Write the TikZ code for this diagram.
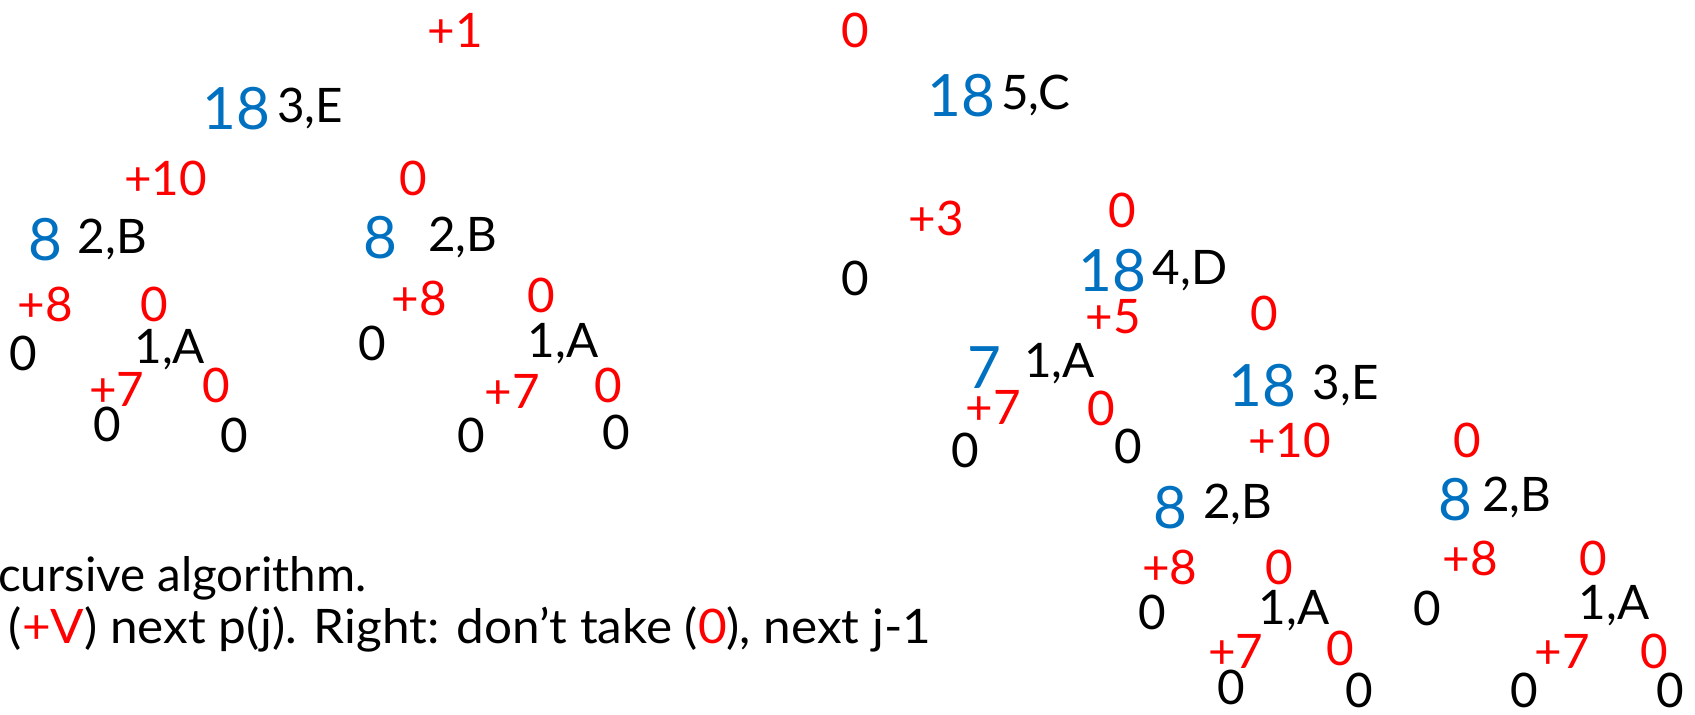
\documentclass[tikz,border=0pt]{standalone}
\usepackage{fontspec}
\setmainfont{Lato}
\definecolor{vred}{RGB}{255,0,0}
\definecolor{vblue}{RGB}{0,112,192}
\tikzset{
  base/.style={inner sep=0pt, anchor=center, font=\fontsize{44}{48}\selectfont},
  rd/.style={base, text=vred},
  bk/.style={base, text=black},
  bl/.style={base, text=vblue, font=\fontsize{54}{58}\selectfont},
  txt/.style={inner sep=0pt, anchor=west, font=\fontsize{44}{48}\selectfont}
}
\begin{document}
\begin{tikzpicture}[x=1pt,y=1pt]
\useasboundingbox (0,0) rectangle (1568,-661);
% ---- left tree
\node[rd] (l1) at (421,-28) {+1};
\node[bl] (l2) at (219,-100) {18};
\node[bk] (l3) at (287,-100) {3,E};
\node[rd] (l4) at (153,-165) {+10};
\node[rd] (l5) at (382,-165) {0};
\node[bl] (l6) at (42,-222) {8};
\node[bk] (l7) at (104,-222) {2,B};
\node[bl] (l8) at (352,-220) {8};
\node[bk] (l9) at (428,-220) {2,B};
\node[rd] (l10) at (42,-282) {+8};
\node[rd] (l11) at (143,-282) {0};
\node[bk] (l12) at (22,-327) {0};
\node[bk] (l13) at (157,-323) {1,A};
\node[rd] (l14) at (108,-360) {+7};
\node[rd] (l15) at (200,-357) {0};
\node[bk] (l16) at (99,-393) {0};
\node[bk] (l17) at (217,-403) {0};
\node[rd] (l18) at (388,-276) {+8};
\node[rd] (l19) at (501,-273) {0};
\node[bk] (l20) at (344,-318) {0};
\node[bk] (l21) at (521,-318) {1,A};
\node[rd] (l22) at (474,-362) {+7};
\node[rd] (l23) at (563,-357) {0};
\node[bk] (l24) at (436,-403) {0};
\node[bk] (l25) at (570,-400) {0};
% ---- right tree
\node[rd] (r1) at (791,-28) {0};
\node[bl] (r2) at (889,-88) {18};
\node[bk] (r3) at (958,-88) {5,C};
\node[rd] (r4) at (866,-202) {+3};
\node[rd] (r5) at (1038,-195) {0};
\node[bk] (r6) at (791,-258) {0};
\node[bl] (r7) at (1029,-250) {18};
\node[bk] (r8) at (1101,-250) {4,D};
\node[rd] (r9) at (1030,-293) {+5};
\node[rd] (r10) at (1170,-290) {0};
\node[bl] (r11) at (911,-340) {7};
\node[bk] (r12) at (980,-336) {1,A};
\node[rd] (r13) at (919,-377) {+7};
\node[rd] (r14) at (1019,-378) {0};
\node[bk] (r15) at (893,-417) {0};
\node[bk] (r16) at (1044,-413) {0};
\node[bl] (r17) at (1168,-357) {18};
\node[bk] (r18) at (1245,-357) {3,E};
\node[rd] (r19) at (1193,-407) {+10};
\node[rd] (r20) at (1357,-407) {0};
\node[bl] (r21) at (1083,-470) {8};
\node[bk] (r22) at (1145,-467) {2,B};
\node[bl] (r23) at (1346,-462) {8};
\node[bk] (r24) at (1403,-460) {2,B};
\node[rd] (r25) at (1082,-525) {+8};
\node[rd] (r26) at (1183,-525) {0};
\node[bk] (r27) at (1066,-567) {0};
\node[bk] (r28) at (1197,-565) {1,A};
\node[rd] (r29) at (1143,-603) {+7};
\node[rd] (r30) at (1240,-600) {0};
\node[bk] (r31) at (1139,-636) {0};
\node[bk] (r32) at (1257,-639) {0};
\node[rd] (r33) at (1360,-517) {+8};
\node[rd] (r34) at (1474,-517) {0};
\node[bk] (r35) at (1320,-563) {0};
\node[bk] (r36) at (1493,-560) {1,A};
\node[rd] (r37) at (1445,-603) {+7};
\node[rd] (r38) at (1530,-603) {0};
\node[bk] (r39) at (1410,-639) {0};
\node[bk] (r40) at (1545,-639) {0};
% ---- caption text
\node[txt] (t1) at (-2,-535) {cursive algorithm.};
\node[txt] (t2) at (8,-582) {\scalebox{1.04}[1]{(\textcolor{vred}{+V}) next p(j). Right: don’t take (\textcolor{vred}{0}), next j-1}};
\end{tikzpicture}
\end{document}
